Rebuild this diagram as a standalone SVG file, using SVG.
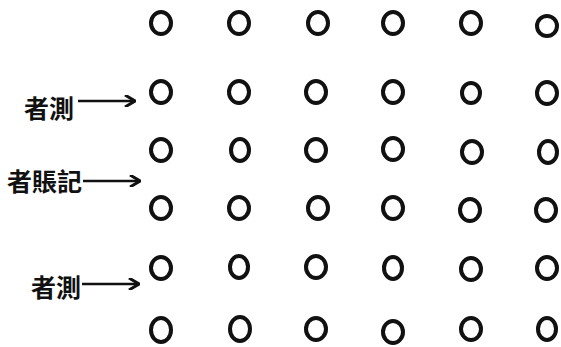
<svg xmlns="http://www.w3.org/2000/svg" width="561" height="347" viewBox="0 0 561 347">
<defs>
<style>
.c{fill:none;stroke:#111;stroke-width:4}
.t{font-family:"Noto Sans CJK TC","Noto Sans CJK JP",sans-serif;font-size:25px;font-weight:bold;fill:#111}
.a{stroke:#111;stroke-width:2.5;fill:none}
</style>
<marker id="ah" markerWidth="12" markerHeight="12" refX="10" refY="6" orient="auto" markerUnits="userSpaceOnUse">
<path d="M1,0 L11,6 L1,12" fill="none" stroke="#111" stroke-width="3"/>
</marker>
</defs>
<rect width="561" height="347" fill="#fff"/>
<g id="grid">
<g id="r1">
<ellipse class="c" cx="161" cy="23" rx="10" ry="11"/><ellipse class="c" cx="239" cy="23" rx="10" ry="11"/><ellipse class="c" cx="318" cy="23" rx="10" ry="11"/><ellipse class="c" cx="393" cy="23" rx="10" ry="11"/><ellipse class="c" cx="471" cy="23" rx="10" ry="11"/><ellipse class="c" cx="547" cy="26" rx="10" ry="10"/>
</g>
<g id="r2">
<ellipse class="c" cx="161" cy="92" rx="10" ry="11"/><ellipse class="c" cx="239" cy="92" rx="10" ry="11"/><ellipse class="c" cx="316" cy="92" rx="10" ry="11"/><ellipse class="c" cx="393" cy="92" rx="10" ry="11"/><ellipse class="c" cx="471" cy="93" rx="9" ry="10"/><ellipse class="c" cx="547" cy="93" rx="10" ry="11"/>
</g>
<g id="r3">
<ellipse class="c" cx="161" cy="150" rx="10" ry="11"/><ellipse class="c" cx="240" cy="150" rx="9" ry="11"/><ellipse class="c" cx="316" cy="150" rx="10" ry="11"/><ellipse class="c" cx="393" cy="149" rx="10" ry="11"/><ellipse class="c" cx="472" cy="152" rx="10" ry="11"/><ellipse class="c" cx="548" cy="152" rx="9" ry="11"/>
</g>
<g id="r4">
<ellipse class="c" cx="161" cy="208" rx="10" ry="11"/><ellipse class="c" cx="239" cy="208" rx="10" ry="11"/><ellipse class="c" cx="318" cy="208" rx="10" ry="11"/><ellipse class="c" cx="393" cy="208" rx="10" ry="11"/><ellipse class="c" cx="470" cy="210" rx="10" ry="11"/><ellipse class="c" cx="546" cy="210" rx="10" ry="11"/>
</g>
<g id="r5">
<ellipse class="c" cx="161" cy="268" rx="10" ry="11"/><ellipse class="c" cx="239" cy="267" rx="9" ry="11"/><ellipse class="c" cx="316" cy="267" rx="10" ry="11"/><ellipse class="c" cx="393" cy="268" rx="9" ry="11"/><ellipse class="c" cx="471" cy="269" rx="10" ry="11"/><ellipse class="c" cx="547" cy="268" rx="10" ry="11"/>
</g>
<g id="r6">
<ellipse class="c" cx="161" cy="330" rx="10" ry="12"/><ellipse class="c" cx="240" cy="329" rx="10" ry="12"/><ellipse class="c" cx="316" cy="329" rx="10" ry="11"/><ellipse class="c" cx="393" cy="332" rx="10" ry="11"/><ellipse class="c" cx="471" cy="329" rx="10" ry="11"/><ellipse class="c" cx="547" cy="329" rx="9" ry="11"/>
</g>
</g>
<g id="label1"><text class="t" x="24" y="118">者測</text></g>
<g id="label2"><text class="t" x="7" y="191">者賬記</text></g>
<g id="label3"><text class="t" x="31" y="297">者測</text></g>
<g id="connectors">
<line class="a" x1="78" y1="101" x2="134" y2="101" marker-end="url(#ah)"/>
<line class="a" x1="83" y1="181" x2="139" y2="181" marker-end="url(#ah)"/>
<line class="a" x1="82" y1="284" x2="138" y2="284" marker-end="url(#ah)"/>
</g>
</svg>
